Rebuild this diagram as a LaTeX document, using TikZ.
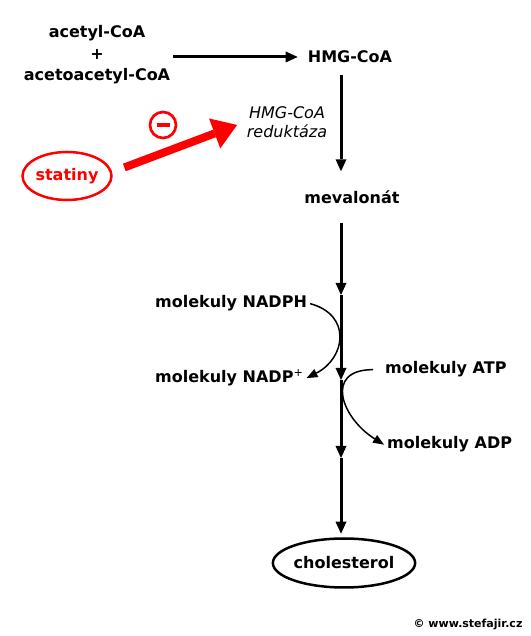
\documentclass[tikz,border=0pt]{standalone}
\usepackage{fontspec}
\setmainfont{DejaVu Sans}
\usetikzlibrary{arrows.meta,shapes.geometric}

\begin{document}
\begin{tikzpicture}[
              x=1pt, y=1pt,
              font=\fontsize{16}{19}\selectfont\bfseries,
              chem/.style={
                  inner sep=3pt,
                },
              enzyme/.style={
                  inner sep=3pt,
                  align=center,
                  font=\fontsize{16}{19}\selectfont\mdseries\itshape,
                },
              oval/.style={
                  draw,
                  ellipse,
                  line width=2.5pt,
                  inner sep=0pt,
                },
              reac/.style={line width=3pt, -{Triangle[length=12pt,width=11pt,line width=0pt]}},
              side/.style={line width=1.5pt, -{Triangle[length=11pt,width=9pt,line width=0pt]}},
              inhib/.style={red, line width=8pt, -{Triangle[length=24pt,width=32pt,line width=0pt]}}
            ]
            \useasboundingbox (0,0) rectangle (530,636);
            \node[chem, align=center, font=\fontsize{16}{21.5}\selectfont\bfseries] (sub) at (97,581) {acetyl-CoA\\+\\acetoacetyl-CoA};
            \node[chem] (hmg) at (350,579) {HMG-CoA};
            \node[enzyme] (hmgr) at (287,513.5) {HMG-CoA\\reduktáza};
            \node[chem] (meval) at (352,439) {mevalonát};
            \node[oval, minimum width=135pt, minimum height=49pt] (chol) at (344,73) {cholesterol};
            \node[oval, red, text=red, minimum width=88pt, minimum height=48pt] (stat) at (67,460) {statiny};
            \node[circle, draw=red, text=red, line width=2.7pt, minimum size=26pt, inner sep=0pt] (minus) at (163,511) {\rule{13pt}{3.5pt}};
            \node[chem, anchor=base west] (nadph) at (152,328) {molekuly NADPH};
            \node[chem, anchor=base west] (nadp) at (152,253) {molekuly NADP\textsuperscript{\mdseries+}};
            \node[chem, inner xsep=12pt, anchor=base west] (atp) at (373,262) {molekuly ATP};
            \node[chem, anchor=base west] (adp) at (384,187) {molekuly ADP};
            \node[font=\fontsize{11}{13}\selectfont\bfseries] (copy) at (468,11) {© www.stefajir.cz};
            \coordinate (m1) at (341,341);
            \coordinate (m2) at (341,256);
            \coordinate (m3) at (341,178);
            \path[reac]
            (sub.east |- hmg) edge[shorten >=7pt] (hmg.west)
            (hmg.south -| m1) edge[shorten <=9pt, shorten >=16pt] (meval.north -| m1)
            (meval.south -| m1) edge[shorten <=16pt] (m1)
            (m1) edge (m2)
            (m2) edge (m3)
            (m3) edge[shorten >=3.5pt] (chol.north -| m1)
            ;
            \path[side]
            (nadph.east) edge[out=-15, in=27, looseness=1.5] (nadp.east)
            (atp.west) edge[out=180, in=148, looseness=1.68] (adp.west)
            ;
            \draw[inhib, shorten <=13pt, shorten >=7pt] (stat.5) -- (hmgr.west);
          \end{tikzpicture}
\end{document}
